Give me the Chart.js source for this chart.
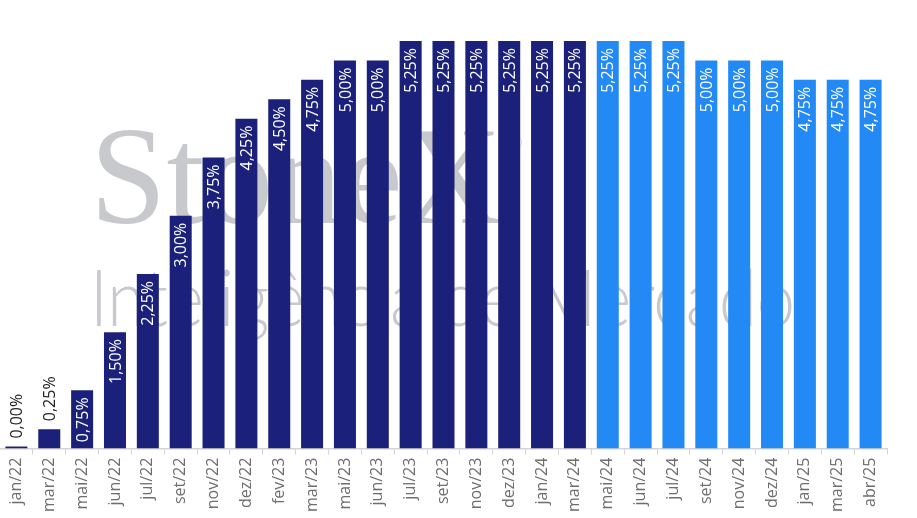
<!DOCTYPE html>
<html>
<head>
<meta charset="utf-8">
<script src="https://cdn.jsdelivr.net/npm/chart.js@4"></script>
<style>
  html, body { margin: 0; padding: 0; background: #fff; }
  #wrap { width: 917px; height: 518px; }
</style>
</head>
<body>
<div id="wrap"><canvas id="selic-chart"></canvas></div>
<script>
const months = ['jan/22', 'mar/22', 'mai/22', 'jun/22', 'jul/22', 'set/22', 'nov/22', 'dez/22', 'fev/23',
    'mar/23', 'mai/23', 'jun/23', 'jul/23', 'set/23', 'nov/23', 'dez/23', 'jan/24', 'mar/24',
    'mai/24', 'jun/24', 'jul/24', 'set/24', 'nov/24', 'dez/24', 'jan/25', 'mar/25', 'abr/25'];
const rates = [0, 0.25, 0.75, 1.5, 2.25, 3.0, 3.75, 4.25, 4.5, 4.75, 5.0, 5.0, 5.25, 5.25, 5.25, 5.25, 5.25, 5.25,
    5.25, 5.25, 5.25, 5.0, 5.0, 5.0, 4.75, 4.75, 4.75];
// first index that is a projection (light blue)
const firstForecast = 18;

const darkBlue = 'rgb(27, 33, 123)';
const lightBlue = 'rgb(34, 137, 245)';

const watermark = {
    id: 'watermark',
    beforeDatasetsDraw(chart) {
        const ctx = chart.ctx;
        ctx.save();
        ctx.fillStyle = 'rgb(200, 201, 205)';
        ctx.textBaseline = 'alphabetic';
        ctx.font = '140px "Liberation Serif"';
        ctx.fillText('StoneX', 90, 223, 412);
        ctx.font = '14px "Liberation Serif"';
        ctx.fillText('®', 512, 148);
        ctx.font = '300 78px Lato';
        ctx.fillText('Inteligência de Mercado', 90, 326, 705);
        ctx.restore();
    }
};

const barLabels = {
    id: 'barLabels',
    afterDatasetsDraw(chart) {
        const ctx = chart.ctx;
        const meta = chart.getDatasetMeta(0);
        ctx.save();
        ctx.font = '16px "Open Sans"';
        ctx.textBaseline = 'middle';
        meta.data.forEach((bar, i) => {
            const text = rates[i].toFixed(2).replace('.', ',') + '%';
            const w = ctx.measureText(text).width;
            const h = bar.base - bar.y;
            ctx.save();
            ctx.translate(bar.x, bar.y);
            ctx.rotate(-Math.PI / 2);
            if (h > w + 12) {
                ctx.fillStyle = '#fff';
                ctx.textAlign = 'right';
                ctx.fillText(text, -7, 1);
            } else {
                ctx.fillStyle = '#222';
                ctx.textAlign = 'left';
                ctx.fillText(text, 8, 1);
            }
            ctx.restore();
        });
        ctx.restore();
    }
};

new Chart(document.getElementById('selic-chart'), {
    type: 'bar',
    data: {
        labels: months,
        datasets: [{
            data: rates,
            backgroundColor: rates.map((v, i) => i >= firstForecast ? lightBlue : darkBlue),
            barPercentage: 0.67,
            categoryPercentage: 1,
            minBarLength: 2,
        }],
    },
    options: {
        responsive: true,
        maintainAspectRatio: false,
        animation: false,
        layout: {
            padding: { left: 0, right: 30, top: 41, bottom: 3 },
        },
        plugins: {
            legend: { display: false },
            tooltip: { enabled: false },
        },
        scales: {
            y: {
                display: false,
                min: 0,
                max: 5.25,
            },
            x: {
                grid: {
                    drawOnChartArea: false,
                    color: '#d4d4d4',
                    tickLength: 6,
                },
                border: { color: '#d4d4d4', width: 1.5 },
                ticks: {
                    minRotation: 90,
                    maxRotation: 90,
                    color: '#6e6e6e',
                    padding: 3,
                    font: { family: '"Open Sans"', size: 16 },
                },
            },
        },
    },
    plugins: [watermark, barLabels],
});
</script>
</body>
</html>
